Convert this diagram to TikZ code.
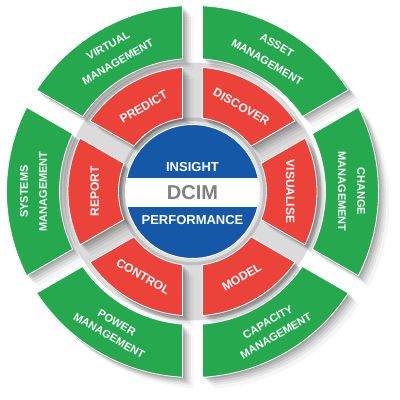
\documentclass[tikz,border=0pt]{standalone}
\usepackage{fontspec}
\setmainfont{Liberation Sans}
\definecolor{sgreen}{RGB}{38,168,78}
\definecolor{sred}{RGB}{235,66,58}
\definecolor{sblue}{RGB}{22,88,168}
\definecolor{sgrey}{RGB}{128,128,128}
% sector path: #1 centre angle, #2 inner radius, #3 outer radius (gap half-width 10)
\newcommand\secp[3]{({#1+30-asin(10/#3)}:#3) arc[start angle={#1+30-asin(10/#3)}, end angle={#1-30+asin(10/#3)}, radius=#3] -- ({#1-30+asin(10/#2)}:#2) arc[start angle={#1-30+asin(10/#2)}, end angle={#1+30-asin(10/#2)}, radius=#2] -- cycle}
\begin{document}
\begin{tikzpicture}[x=1pt,y=1pt,
  greensec/.style={fill=sgreen,draw=white,line width=0.8pt},
  redsec/.style={fill=sred,draw=white,line width=0.8pt},
  centretext/.style={anchor=base,font=\bfseries\fontsize{13}{15}\selectfont,text=white,inner sep=0pt},
  redlbl/.style={font=\bfseries\fontsize{12}{12}\selectfont,text=white,inner sep=0pt},
  greenlbl/.style={font=\bfseries\fontsize{11}{11}\selectfont,text=white,inner sep=0pt}]
\useasboundingbox (-192.5,-208.5) rectangle (207.5,191.5);
\fill[white] (-192.5,-208.5) rectangle (207.5,191.5);
% grey metallic background
\fill[gray!28] (0,0) circle (129);
\fill[gray!50] (0,0) circle (74);
\fill[gray!25] (0,0) circle (70.5);
% soft drop shadows
\foreach \s/\o in {2/0.12,4/0.10,6/0.08,8/0.06,11/0.04}{
  \foreach \a in {0,60,...,300}{
    \fill[black,opacity=\o,shift={(\s,-\s)}] \secp{\a}{133}{186};
    \fill[black,opacity=\o,shift={(\s,-\s)}] \secp{\a}{74}{124.5};
  }
}
% sectors
\foreach \a in {0,60,...,300}{
  \path[greensec] \secp{\a}{133}{186};
  \path[redsec] \secp{\a}{74}{124.5};
}
% centre disc
\begin{scope}
  \clip (0,0) circle (67);
  \fill[sblue] (0,0) circle (67);
  \fill[white] (-70,-15.8) rectangle (70,13.2);
\end{scope}
\draw[white,line width=1pt] (0,0) circle (67);
\node[centretext] (insight) at (0,19.9) {INSIGHT};
\node[centretext,text=sgrey,font=\bfseries\fontsize{20}{22}\selectfont] (dcim) at (0,-8.2) {DCIM};
\node[centretext] (performance) at (0,-33.2) {PERFORMANCE};
% red labels
\node[redlbl,rotate=30]  (predict)   at (120:97.8) {PREDICT};
\node[redlbl,rotate=-30] (discover)  at (60:97.8)  {DISCOVER};
\node[redlbl,rotate=-90] (visualise) at (0:97.8)   {VISUALISE};
\node[redlbl,rotate=90]  (report)    at (180:97.8) {REPORT};
\node[redlbl,rotate=30]  (model)     at (-60:98.5) {MODEL};
\node[redlbl,rotate=-30] (control)   at (-120:98.5) {CONTROL};
% green labels
\node[greenlbl,rotate=30]  (virtual) at (120:168.6) {VIRTUAL};
\node[greenlbl,rotate=30]  (vmgmt)   at (120:149.4) {MANAGEMENT};
\node[greenlbl,rotate=-30] (asset)   at (60:169)    {ASSET};
\node[greenlbl,rotate=-30] (amgmt)   at (60:149.4)  {MANAGEMENT};
\node[greenlbl,rotate=-90] (change)  at (0:168.6)   {CHANGE};
\node[greenlbl,rotate=-90] (chmgmt)  at (0:149.4)   {MANAGEMENT};
\node[greenlbl,rotate=90]  (systems) at (180:168.5) {SYSTEMS};
\node[greenlbl,rotate=90]  (smgmt)   at (180:149.4) {MANAGEMENT};
\node[greenlbl,rotate=30]  (capacity) at (-60:150.7) {CAPACITY};
\node[greenlbl,rotate=30]  (cmgmt)   at (-60:166.6) {MANAGEMENT};
\node[greenlbl,rotate=-30] (power)   at (-120:151.3) {POWER};
\node[greenlbl,rotate=-30] (pmgmt)   at (-120:166.6) {MANAGEMENT};
\end{tikzpicture}
\end{document}
